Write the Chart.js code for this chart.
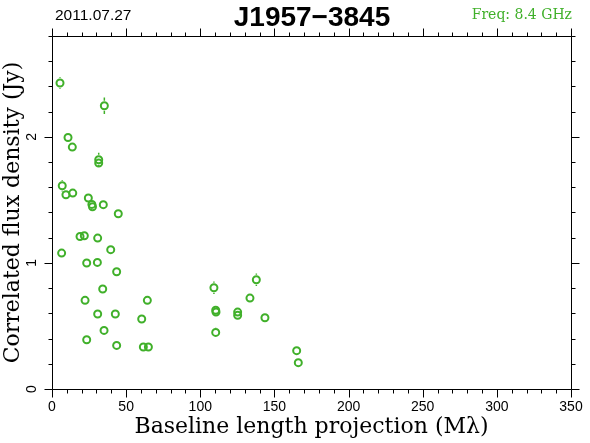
<!DOCTYPE html>
<html><head><meta charset="utf-8">
<script src="https://cdn.jsdelivr.net/npm/chart.js@4"></script>
<style>
html,body{margin:0;padding:0;background:#fff;}
#wrap{position:relative;width:590px;height:443px;overflow:hidden;}
canvas{position:absolute;left:0;top:0;}
.hdr{position:absolute;white-space:nowrap;line-height:1;}
</style></head><body>
<div id="wrap">
<canvas id="c" width="590" height="443"></canvas>
<div class="hdr" style="left:55px;top:6px;font:15.5px 'Liberation Sans',sans-serif;color:#000">2011.07.27</div>
<div class="hdr" style="left:0;width:624px;text-align:center;top:1px;font:bold 28px 'Liberation Sans',sans-serif;color:#000">J1957−3845</div>
<div class="hdr" style="right:18px;top:6px;font:14px 'DejaVu Serif',serif;color:#40b02a">Freq: 8.4 GHz</div>
</div>
<script>
// Baseline length projection (Mλ)
const baseline = [5.4, 35.3, 10.8, 13.7, 31.5, 31.5, 6.9, 9.4, 14.0, 24.5, 26.9, 27.3, 34.6, 44.7,
  18.9, 21.8, 30.8, 39.6, 6.5, 23.4, 30.6, 43.6, 34.2, 22.3, 64.3, 30.8, 42.7, 60.5, 35.1, 23.4,
  43.6, 61.6, 65.0,
  109.2, 137.8, 133.5, 110.4, 110.6, 125.2, 125.2, 143.6, 110.4, 165.0, 166.1];
// Correlated flux density (Jy)
const flux = [2.427, 2.247, 1.995, 1.919, 1.818, 1.792, 1.612, 1.541, 1.554, 1.515, 1.464, 1.446, 1.462, 1.390,
  1.210, 1.216, 1.197, 1.105, 1.078, 0.999, 1.004, 0.930, 0.793, 0.703, 0.703, 0.595, 0.595, 0.555, 0.465, 0.391,
  0.346, 0.333, 0.333,
  0.803, 0.867, 0.721, 0.625, 0.610, 0.610, 0.585, 0.565, 0.449, 0.304, 0.209];
const fluxErr = [0.045, 0.065, 0.025, 0.025, 0.055, 0.025, 0.045, 0.025, 0.025, 0.035, 0.025, 0.025, 0.04, 0.04,
  0.025, 0.025, 0.025, 0.03, 0.025, 0.025, 0.025, 0.025, 0.025, 0.025, 0.025, 0.025, 0.025, 0.025, 0.025, 0.025,
  0.025, 0.025, 0.025,
  0.05, 0.05, 0.03, 0.025, 0.025, 0.03, 0.025, 0.025, 0.04, 0.025, 0.025];
const xTickLabels = [0, 50, 100, 150, 200, 250, 300, 350];
const yTickLabels = [0, 1, 2];
const xTitle = 'Baseline length projection (Mλ)';
const yTitle = 'Correlated flux density (Jy)';

const GREEN = '#40b02a';

const framePlugin = {
  id: 'frame',
  afterDraw(chart) {
    const {ctx, chartArea: a, scales: {x, y}} = chart;
    ctx.save();
    ctx.strokeStyle = '#000';
    ctx.lineWidth = 1;
    const L = Math.round(a.left) + 0.5, R = Math.round(a.right) + 0.5;
    const T = Math.round(a.top) + 0.5, B = Math.round(a.bottom) + 0.5;
    ctx.beginPath();
    ctx.rect(L, T, R - L, B - T);
    for (let v = 0; v <= 350; v += 10) {
      const px = Math.round(x.getPixelForValue(v)) + 0.5;
      const len = (v % 50 === 0) ? 8 : 4;
      ctx.moveTo(px, B); ctx.lineTo(px, B + len);
      ctx.moveTo(px, T); ctx.lineTo(px, T - len);
    }
    for (let k = 0; k <= 14; k++) {
      const v = k * 0.2;
      const py = Math.round(y.getPixelForValue(v)) + 0.5;
      const len = (k % 5 === 0) ? 8 : 4;
      ctx.moveTo(L, py); ctx.lineTo(L - len, py);
      ctx.moveTo(R, py); ctx.lineTo(R + len, py);
    }
    ctx.stroke();
    ctx.fillStyle = '#000';
    ctx.font = "14px 'Liberation Sans', sans-serif";
    ctx.textAlign = 'center';
    ctx.textBaseline = 'middle';
    xTickLabels.forEach(v => {
      ctx.fillText(String(v), x.getPixelForValue(v), a.bottom + 18);
    });
    yTickLabels.forEach(v => {
      ctx.save();
      ctx.translate(a.left - 20, y.getPixelForValue(v));
      ctx.rotate(-Math.PI / 2);
      ctx.fillText(String(v), 0, 0);
      ctx.restore();
    });
    ctx.font = "22px 'DejaVu Serif', serif";
    ctx.fillText(xTitle, (a.left + a.right) / 2, 427);
    ctx.save();
    ctx.translate(13, (a.top + a.bottom) / 2);
    ctx.rotate(-Math.PI / 2);
    ctx.fillText(yTitle, 0, 0);
    ctx.restore();
    ctx.restore();
  },
  afterDatasetsDraw(chart) {
    const {ctx, scales: {x, y}} = chart;
    ctx.save();
    ctx.strokeStyle = GREEN;
    ctx.lineWidth = 1.5;
    const r = 5;
    ctx.beginPath();
    baseline.forEach((bx, i) => {
      const px = x.getPixelForValue(bx);
      const py = y.getPixelForValue(flux[i]);
      const top = y.getPixelForValue(flux[i] + fluxErr[i]);
      const bot = y.getPixelForValue(flux[i] - fluxErr[i]);
      if (top < py - r) { ctx.moveTo(px, top); ctx.lineTo(px, py - r); }
      if (bot > py + r) { ctx.moveTo(px, py + r); ctx.lineTo(px, bot); }
    });
    ctx.stroke();
    ctx.restore();
  }
};

new Chart(document.getElementById('c'), {
  type: 'scatter',
  data: {
    datasets: [{
      data: baseline.map((bx, i) => ({x: bx, y: flux[i]})),
      pointStyle: 'circle',
      pointRadius: 3.5,
      pointHoverRadius: 3.5,
      borderWidth: 2,
      pointBorderWidth: 2,
      borderColor: GREEN,
      pointBorderColor: GREEN,
      backgroundColor: 'rgba(0,0,0,0)',
      pointBackgroundColor: 'rgba(0,0,0,0)',
      showLine: false
    }]
  },
  options: {
    responsive: false,
    animation: false,
    devicePixelRatio: 1,
    layout: {padding: {top: 36, right: 19, left: 0, bottom: 0}},
    plugins: {legend: {display: false}, tooltip: {enabled: false}, title: {display: false}},
    scales: {
      x: {type: 'linear', min: 0, max: 350, ticks: {display: false}, grid: {display: false},
          border: {display: false}, afterFit(s) { s.height = 54; }},
      y: {type: 'linear', min: 0, max: 2.8, ticks: {display: false}, grid: {display: false},
          border: {display: false}, afterFit(s) { s.width = 52; }}
    }
  },
  plugins: [framePlugin]
});
</script>
</body></html>
